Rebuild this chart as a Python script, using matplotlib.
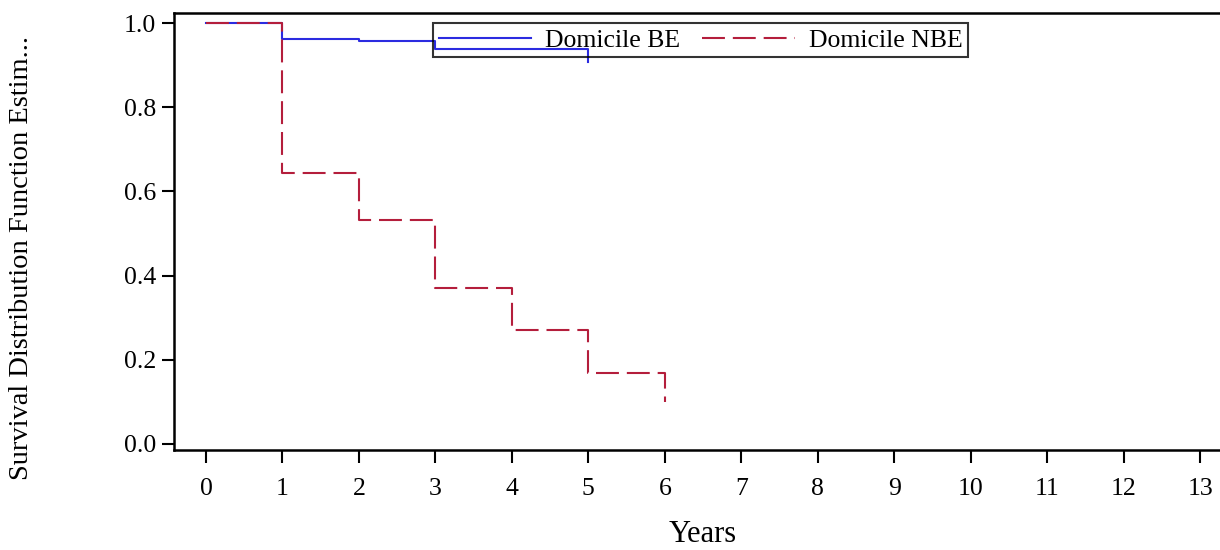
import matplotlib
matplotlib.use("Agg")
import matplotlib.pyplot as plt

plt.rcParams['font.family'] = ['Liberation Serif', 'DejaVu Serif']

# Kaplan-Meier estimates
years_be = [0, 1, 2, 3, 5]
surv_be = [1.0, 0.962, 0.957, 0.938, 0.907]
years_nbe = [0, 1, 2, 3, 4, 5, 6]
surv_nbe = [1.0, 0.644, 0.533, 0.371, 0.271, 0.169, 0.100]
xticks = list(range(0, 14))
yticks = [0.0, 0.2, 0.4, 0.6, 0.8, 1.0]

W, H = 1220, 550
fig = plt.figure(figsize=(W / 100, H / 100), dpi=100)
ax = fig.add_axes([174 / W, 1 - 450 / H, 1 - 174 / W, (450 - 13) / H])

blue = '#2b2be0'
red = '#b41e3c'
ax.step(years_be, surv_be, where='post', color=blue, lw=1.5, label='Domicile BE')
ax.step(years_nbe, surv_nbe, where='post', color=red, lw=1.5,
        dashes=(11, 3.8), label='Domicile NBE')

ax.set_xlim(-0.4185, 13.26)
ax.set_ylim(-0.0143, 1.0238)
ax.set_xticks(xticks)
ax.set_yticks(yticks)
ax.set_yticklabels(['%.1f' % v for v in yticks])
ax.tick_params(direction='out', length=9, width=1.5, labelsize=18.5, colors='black')
ax.tick_params(axis='x', pad=11)
ax.tick_params(axis='y', pad=4)
for s in ['left', 'bottom', 'top']:
    ax.spines[s].set_linewidth(1.8)
ax.spines['right'].set_visible(False)

leg = ax.legend(loc='upper left', bbox_to_anchor=(433 / W, 1 - 23 / H),
                bbox_transform=fig.transFigure, ncol=2, fontsize=18.5,
                frameon=True, fancybox=False, edgecolor='black',
                borderaxespad=0, borderpad=0.22, handlelength=3.6,
                handletextpad=0.55, columnspacing=0.85)
leg.get_frame().set_facecolor('none')
leg.get_frame().set_linewidth(1.5)

fig.text(22 / W, 1 - 258 / H, 'Survival Distribution Function Estim...',
         rotation=90, ha='center', va='center', fontsize=20.5)
fig.text(703 / W, 1 - 534 / H, 'Years', ha='center', va='center', fontsize=22)

fig.savefig('out.png', dpi=100)
